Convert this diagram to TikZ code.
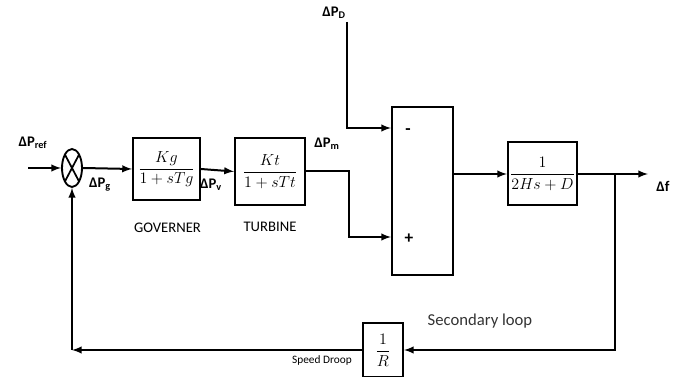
\documentclass[tikz,border=0pt]{standalone}
\usepackage{amsmath}
\usepackage{fontspec}
\setmainfont{Carlito}
\usepackage{tikz}
\usetikzlibrary{shapes.geometric,arrows,positioning,calc}

\begin{document}
\begin{tikzpicture}[
    x=0.75pt, y=-0.75pt,
    block/.style={rectangle, draw, line width=1.5pt, inner sep=0pt, font=\fontsize{11.5}{13}\selectfont},
    sumnode/.style={ellipse, draw, line width=1.4pt, minimum width=15pt, minimum height=28.5pt, inner sep=0pt,
        path picture={\draw[line width=1.3pt] (path picture bounding box.north west) -- (path picture bounding box.south east)
            (path picture bounding box.north east) -- (path picture bounding box.south west);}},
    lbl/.style={font=\fontsize{11}{13}\selectfont\bfseries, inner sep=0pt},
    caption/.style={font=\fontsize{11}{13}\selectfont, inner sep=0pt},
    arrow/.style={->, >=latex, line width=1.5pt},
]
    \useasboundingbox (0,0) rectangle (683,377);

    % blocks
    \node[sumnode] (sum) at (72,168) {};
    \node[block, minimum width=50.25pt, minimum height=46.5pt] (gov) at (166.5,169) {$\dfrac{Kg}{1+sTg}$};
    \node[block, minimum width=52.5pt, minimum height=50.25pt] (turb) at (270,171.5) {$\dfrac{Kt}{1+sTt}$};
    \node[block, minimum width=45.75pt, minimum height=126pt] (mix) at (422.5,191) {};
    \node[block, minimum width=51.75pt, minimum height=47.25pt] (plant) at (542.5,174) {$\dfrac{1}{2Hs+D}$};
    \node[block, minimum width=30pt, minimum height=40.5pt] (droop) at (383,350) {$\dfrac{1}{R}$};

    % free ends
    \coordinate (ref) at (28,168);
    \coordinate (load) at (347,22);
    \coordinate (out) at (648,174);
    \coordinate (tap) at (615,174);
    \coordinate (corner) at (sum.south |- droop.west);

    % connectors
    \draw[arrow] (ref) -- (sum.west);
    \draw[arrow] (sum.east) -- (gov.west);
    \draw[arrow] (gov.east) -- (turb.west);
    \draw[arrow] (turb.east) -- ($(turb.east)+(43,0)$) |- ($(mix.west)+(0,46)$);
    \draw[arrow] (load) |- ($(mix.west)+(0,-63)$);
    \draw[arrow] (mix.east |- plant.west) -- (plant.west);
    \draw[arrow] (plant.east) -- (out);
    \draw[arrow] (tap) |- (droop.east);
    \draw[arrow] (droop.west) -- (corner);
    \draw[arrow] (corner) -- (sum.south);

    % labels
    \node[lbl] (lref) at (33,143) {ΔP\textsubscript{ref}};
    \node[lbl] (lg) at (100,185) {ΔP\textsubscript{g}};
    \node[lbl] (lv) at (211,185) {ΔP\textsubscript{v}};
    \node[lbl] (lm) at (327,144) {ΔP\textsubscript{m}};
    \node[lbl] (ld) at (334,13) {ΔP\textsubscript{D}};
    \node[lbl] (lf) at (663,186) {Δf};
    \node[lbl, font=\fontsize{13}{15}\selectfont\bfseries] (lminus) at (408,132) {-};
    \node[lbl, font=\fontsize{13}{15}\selectfont\bfseries] (lplus) at (409,239) {+};
    \node[caption] (cgov) at (167.5,227.5) {GOVERNER};
    \node[caption] (cturb) at (270,227) {TURBINE};
    \node[caption, font=\fontsize{12.5}{14}\selectfont, text=black!80] (cloop) at (480,321) {Secondary loop};
    \node[caption, font=\fontsize{8.5}{10}\selectfont] (cdroop) at (322,360) {Speed Droop};
\end{tikzpicture}
\end{document}
